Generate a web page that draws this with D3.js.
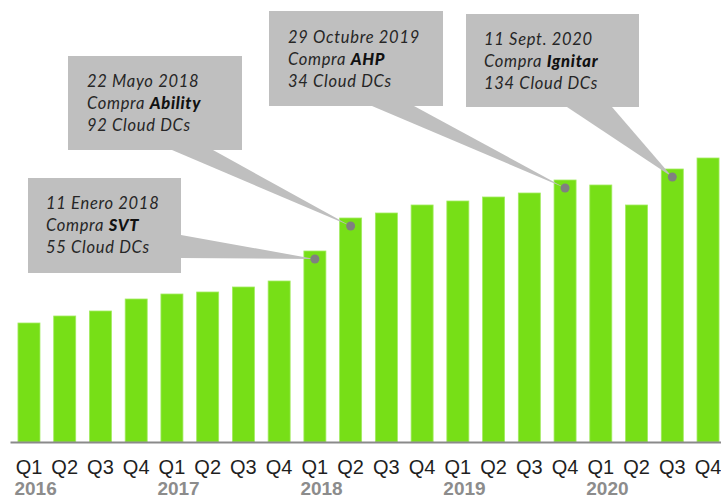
<!DOCTYPE html>
<html>
<head>
<meta charset="utf-8">
<script src="https://cdn.jsdelivr.net/npm/d3@7"></script>
<style>
  html, body { margin: 0; padding: 0; background: #fff; }
  svg { display: block; }
</style>
</head>
<body>
<svg id="chart" width="721" height="499"></svg>
<script>
// ---- data ----
const quarters = ["Q1","Q2","Q3","Q4","Q1","Q2","Q3","Q4","Q1","Q2","Q3","Q4","Q1","Q2","Q3","Q4","Q1","Q2","Q3","Q4"];
const years = ["2016","2017","2018","2019","2020"];
const values = [119, 126, 131, 143, 148, 150, 155, 161, 191, 224, 229, 237, 241, 245, 249, 262, 257, 237, 273, 284];
const annoIndex = [8, 9, 15, 18];
const annoDate = ["11 Enero 2018", "22 Mayo 2018", "29 Octubre 2019", "11 Sept. 2020"];
const annoCompany = ["SVT", "Ability", "AHP", "Ignitar"];
const annoDCs = ["55 Cloud DCs", "92 Cloud DCs", "34 Cloud DCs", "134 Cloud DCs"];

// ---- layout ----
const W = 721, H = 499;
const baseY = 442;
const svg = d3.select("#chart");

const x = d3.scaleBand()
  .domain(d3.range(values.length))
  .range([11.1, 725.9])
  .paddingInner(0.384)
  .paddingOuter(0.192);
const y = d3.scaleLinear().domain([0, 300]).range([baseY, baseY - 300]);

// callout boxes layout
const boxes = [
  {x: 28,  y: 178, w: 153, h: 95, base: [[181, 235], [181, 258]], tx: 46,  ty: 209},
  {x: 68,  y: 56,  w: 174, h: 94, base: [[172, 150], [213, 150]], tx: 87,  ty: 87},
  {x: 269, y: 11,  w: 174, h: 95, base: [[372, 106], [414, 106]], tx: 288, ty: 43},
  {x: 466, y: 14,  w: 173, h: 93, base: [[567, 107], [612, 107]], tx: 484, ty: 45}
];

// bars
svg.append("g").selectAll("rect")
  .data(values)
  .join("rect")
  .attr("x", (d, i) => x(i))
  .attr("y", d => y(d))
  .attr("width", x.bandwidth())
  .attr("height", d => baseY - y(d))
  .attr("fill", "#77df17")
  .attr("stroke", "#a3eb62")
  .attr("stroke-width", 0.8);

// baseline
svg.append("line")
  .attr("x1", 10.5).attr("x2", W)
  .attr("y1", baseY + 0.5).attr("y2", baseY + 0.5)
  .attr("stroke", "#8a8a8a").attr("stroke-width", 2);

// x axis labels (quarters)
const xAxis = d3.axisBottom(x).tickSize(0).tickFormat(i => quarters[i]);
const gx = svg.append("g").attr("transform", `translate(0,${baseY})`).call(xAxis);
gx.select(".domain").remove();
gx.selectAll("text")
  .attr("y", 0).attr("dy", 0)
  .attr("transform", "translate(0,32)")
  .attr("font-family", "'Liberation Sans', Arial, sans-serif")
  .attr("font-size", 20)
  .attr("fill", "#1f1f1f");

// year labels aligned to start of Q1 labels
const q1W = 29;
svg.append("g").selectAll("text")
  .data(years)
  .join("text")
  .attr("x", (d, k) => x(k * 4) + x.bandwidth() / 2 - q1W / 2)
  .attr("y", 494.5)
  .attr("font-family", "'Liberation Sans', Arial, sans-serif")
  .attr("font-weight", "bold")
  .attr("font-size", 19)
  .attr("fill", "#8c8c8c")
  .text(d => d);

// callouts
const ann = svg.append("g");
annoIndex.forEach((idx, k) => {
  const b = boxes[k];
  const cx = x(idx) + x.bandwidth() / 2;
  const cy = y(values[idx]) + 8;
  ann.append("polygon")
    .attr("points", [b.base[0], b.base[1], [cx, cy]].map(p => p.join(",")).join(" "))
    .attr("fill", "#bfbfbf");
  ann.append("rect")
    .attr("x", b.x).attr("y", b.y).attr("width", b.w).attr("height", b.h)
    .attr("fill", "#bfbfbf");
  const t = ann.append("text")
    .attr("font-family", "Lato, 'Open Sans', sans-serif")
    .attr("font-style", "italic")
    .attr("font-size", 16.5)
    .attr("letter-spacing", 0.7)
    .attr("fill", "#262626");
  t.append("tspan").attr("x", b.tx).attr("y", b.ty).text(annoDate[k]);
  t.append("tspan").attr("x", b.tx).attr("y", b.ty + 22).text("Compra ");
  t.append("tspan").attr("font-weight", "900").attr("fill", "#111").text(annoCompany[k]);
  t.append("tspan").attr("x", b.tx).attr("y", b.ty + 44).text(annoDCs[k]);
  ann.append("circle")
    .attr("cx", cx).attr("cy", cy).attr("r", 4.5)
    .attr("fill", "#808080");
});
</script>
</body>
</html>
